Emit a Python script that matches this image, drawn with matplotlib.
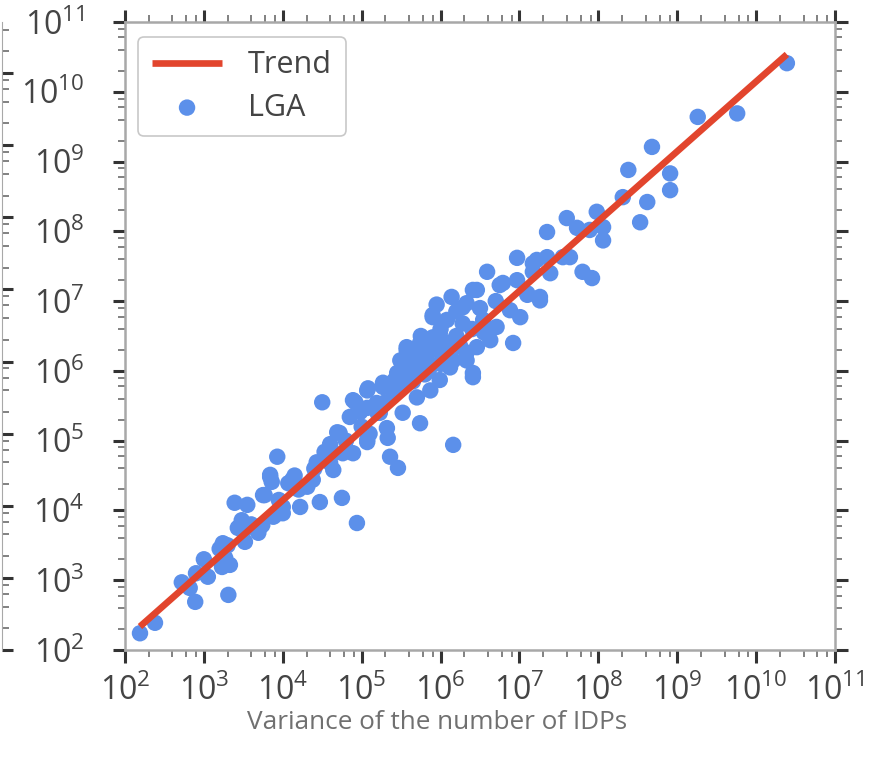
import matplotlib
matplotlib.use("Agg")
import matplotlib.pyplot as plt
import matplotlib.ticker as mticker
import numpy as np

plt.rcParams['font.family'] = ['Open Sans', 'DejaVu Sans']
plt.rcParams['mathtext.fontset'] = 'custom'
plt.rcParams['mathtext.rm'] = 'Open Sans'
plt.rcParams['mathtext.default'] = 'regular'

# LGA points as log10 values
lga_log_x = [
    2.19, 2.38, 2.72, 2.82, 2.89, 3.05, 3.31, 3.24, 3.27, 3.33, 3.23, 3.52, 3.48, 3.43,
    3.39, 3.55, 3.75, 3.84, 3.86, 3.69, 3.74, 3.90, 4.00, 4.07,
    4.50, 3.93, 3.84, 3.77, 4.12, 4.47, 4.75, 4.94, 4.69, 4.53, 4.89, 5.07, 4.92, 5.08,
    5.27, 5.42, 4.85, 5.32, 5.33, 5.36, 5.46, 4.31, 4.64, 4.43, 4.22, 4.00, 3.71, 3.88,
    4.38, 4.60, 4.76, 5.07, 5.23,
    6.41, 6.14, 6.28, 5.90, 6.08, 6.28, 5.99, 5.87, 5.70, 5.57, 5.49, 5.61, 5.78, 6.12,
    6.33, 6.41, 5.99, 5.87, 5.70, 5.36, 5.27, 5.07, 4.89, 4.98, 4.72, 5.07, 5.52, 5.74,
    6.16, 4.64, 5.19, 5.45,
    7.35, 6.97, 7.17, 7.35, 6.59, 6.97, 6.75, 6.46, 6.33, 7.26, 7.10, 6.88, 7.01, 5.90,
    6.54, 6.71, 6.92, 6.63, 6.46, 5.90, 5.74, 5.57, 6.03, 6.16, 6.41, 6.33, 5.83, 5.52,
    8.68, 8.38, 8.91, 8.91, 8.31, 8.62, 8.53, 7.98, 7.60, 7.73, 7.89, 8.06, 8.06, 7.22,
    7.55, 7.64, 7.39, 7.80, 7.92, 6.79, 7.17, 7.10, 7.26,
    10.39, 9.76, 9.26,
    5.65, 5.80, 5.95, 6.00, 6.20, 6.20, 5.75, 5.60, 5.85, 6.25, 6.05, 5.55, 5.40, 5.20,
    5.00, 4.80, 5.10, 6.50, 6.70, 6.55, 5.95, 6.40, 5.30, 5.50, 5.65, 4.60, 4.40, 4.20,
    3.60, 3.30, 3.00, 2.90, 3.20, 3.50, 3.95, 4.15, 5.70, 6.10, 6.00, 5.80,
]
lga_log_y = [
    2.24, 2.39, 2.97, 2.89, 2.69, 3.05, 2.79, 3.53, 3.32, 3.22, 3.19, 3.55, 3.86, 3.75,
    4.11, 4.08, 4.22, 4.51, 4.41, 3.68, 3.79, 3.93, 4.05, 4.39,
    5.55, 4.77, 4.48, 4.22, 4.44, 4.12, 4.18, 3.82, 5.12, 4.84, 4.82, 4.98, 5.55, 5.75,
    5.77, 5.87, 5.34, 5.18, 5.04, 4.77, 4.61, 4.34, 4.58, 4.69, 4.05, 3.96, 3.76, 3.91,
    4.44, 4.68, 4.82, 5.47, 5.40,
    7.16, 7.06, 6.91, 6.80, 6.73, 6.68, 6.54, 6.41, 6.30, 6.30, 6.15, 6.01, 6.05, 6.05,
    6.15, 5.91, 5.87, 5.72, 5.62, 5.77, 5.83, 5.72, 5.58, 5.41, 5.11, 5.01, 5.40, 5.25,
    4.94, 4.82, 5.54, 5.97,
    7.99, 7.62, 7.54, 7.63, 7.42, 7.30, 7.23, 7.16, 6.97, 7.01, 7.09, 6.87, 6.77, 6.77,
    6.73, 6.63, 6.40, 6.44, 6.34, 6.48, 6.40, 6.34, 6.34, 6.15, 5.97, 6.26, 6.15, 6.05,
    9.21, 8.88, 8.83, 8.59, 8.49, 8.42, 8.13, 8.28, 8.19, 8.05, 8.02, 8.06, 7.87, 7.59,
    7.63, 7.63, 7.40, 7.42, 7.33, 7.26, 7.42, 7.11, 7.06,
    10.41, 9.69, 9.64,
    6.20, 6.25, 6.30, 6.60, 6.50, 6.85, 6.50, 6.10, 6.00, 6.35, 6.20, 5.90, 5.70, 5.40,
    5.20, 5.00, 5.10, 6.90, 7.00, 6.55, 6.95, 6.60, 5.55, 5.80, 5.85, 4.95, 4.60, 4.30,
    3.80, 3.50, 3.30, 3.10, 3.45, 3.70, 4.15, 4.50, 6.10, 6.40, 6.10, 5.95,
]

# trend: y = 1.4 * x in linear units
trend_factor = 1.4

x = 10 ** np.array(lga_log_x)
y = 10 ** np.array(lga_log_y)

W, H = 885, 760
fig = plt.figure(figsize=(W / 100, H / 100), dpi=100)
ax = fig.add_axes([125 / W, 1 - 650 / H, 710 / W, 628 / H])

blue = '#5c90ea'
red = '#e2452d'
ax.scatter(x, y, s=140, color=blue, edgecolors='none', label='LGA', zorder=2)
xt = np.array([x.min(), x.max()])
ax.plot(xt, trend_factor * xt, color=red, lw=4.8, label='Trend', zorder=3,
        solid_capstyle='butt')

ax.set_xscale('log')
ax.set_yscale('log')
ax.set_xlim(1e2, 1e11)
ax.set_ylim(1e2, 1e11)

for a in (ax.xaxis, ax.yaxis):
    a.set_major_locator(mticker.LogLocator(base=10, numticks=20))
    a.set_minor_locator(mticker.LogLocator(base=10, subs=(2, 4, 6, 8), numticks=20))
    a.set_minor_formatter(mticker.NullFormatter())

for s in ax.spines.values():
    s.set_color('#a8a8a8')
    s.set_linewidth(1.8)

ax.tick_params(which='both', direction='out', top=True, right=True)
ax.tick_params(which='major', length=9, width=2.2, color='#333333',
               labelsize=23, labelcolor='#444444')
ax.tick_params(which='minor', length=5, width=1.3, color='#777777')
ax.tick_params(axis='x', which='major', pad=9)
ax.tick_params(axis='y', which='major', pad=20)

ax.set_xlabel('Variance of the number of IDPs', fontsize=18.8, color='#707070')
ax.xaxis.set_label_coords(0.44, -0.095)

leg = ax.legend(handles=ax.get_legend_handles_labels()[0][::-1],
                loc='upper left', fontsize=22, frameon=True, fancybox=True,
                handlelength=2.3, handletextpad=0.85, borderpad=0.45, labelspacing=0.4,
                bbox_to_anchor=(-0.003, 1.001), markerscale=1.0)
leg.get_frame().set_edgecolor('#bbbbbb')
leg.get_frame().set_linewidth(1.2)
for t in leg.get_texts():
    t.set_color('#444444')

# neighbouring panel's right edge, cut off at the left border
ax2 = fig.add_axes([-0.5, 1 - 650 / H, 0.5 + 2 / W, 628 / H])
ax2.set_yscale('log')
ax2.set_ylim(1e2, 10 ** (2 + 8 * 628 / 577))
ax2.yaxis.set_major_locator(mticker.LogLocator(base=10, numticks=20))
ax2.yaxis.set_minor_locator(mticker.LogLocator(base=10, subs=(2, 4, 6, 8), numticks=20))
ax2.yaxis.tick_right()
ax2.tick_params(which='both', direction='out', labelright=False, labelleft=False,
                bottom=False, labelbottom=False)
ax2.tick_params(which='major', length=8, width=2.2, color='#333333')
ax2.tick_params(which='minor', length=5, width=1.3, color='#777777')
for k, s in ax2.spines.items():
    s.set_visible(k == 'right')
    s.set_color('#a8a8a8')
ax2.patch.set_visible(False)

fig.savefig('out.png', dpi=100)
